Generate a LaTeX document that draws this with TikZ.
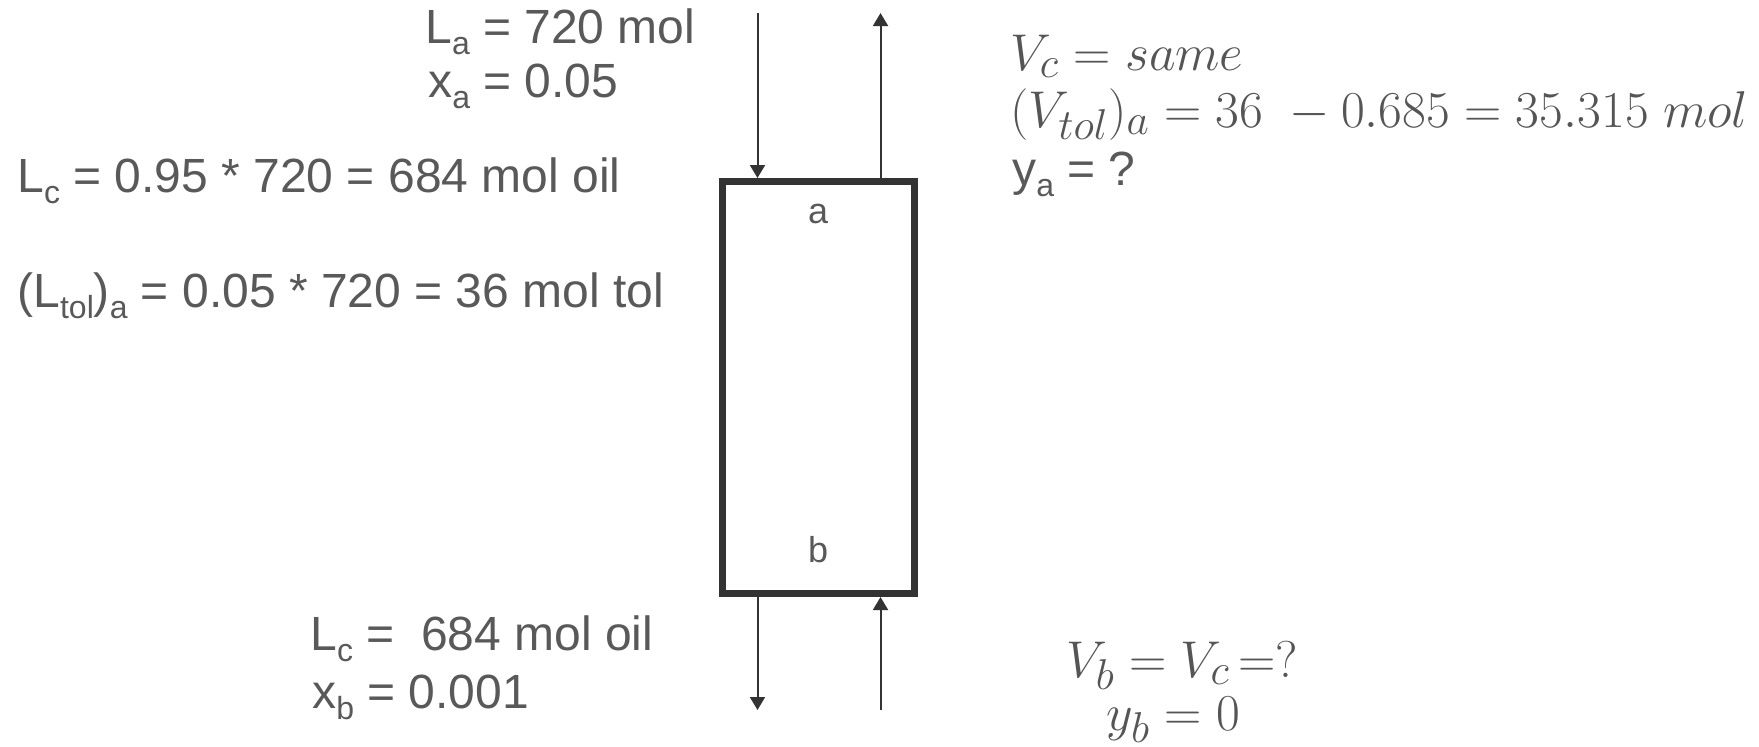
\documentclass[tikz,border=0pt]{standalone}
\usepackage[no-math]{fontspec}
\setmainfont{Liberation Sans}
\usetikzlibrary{arrows.meta}
\definecolor{txt}{HTML}{595959}
\definecolor{mth}{HTML}{555555}
\definecolor{dk}{HTML}{333333}
\newcommand\sbs[1]{\raisebox{-5.5pt}{\fontsize{16}{16}\selectfont #1}}
\newcommand\mbig[1]{\scalebox{1.04}{$#1$}}
\begin{document}
\begin{tikzpicture}[x=0.5pt,y=-0.5pt,
  lbl/.style={anchor=base west,inner sep=0pt,text=txt,font=\fontsize{24}{28}\selectfont},
  mlbl/.style={anchor=base west,inner sep=0pt,text=mth,font=\fontsize{24.88}{30}\selectfont},
  posl/.style={anchor=base,inner sep=0pt,text=txt,font=\fontsize{18}{20}\selectfont},
  colbox/.style={draw=dk,line width=3.5pt,minimum width=96pt,minimum height=206pt,inner sep=0pt},
  flow/.style={draw=dk,line width=1pt,-{Triangle[length=6.5pt,width=7.5pt]}}]
\useasboundingbox (0,0) rectangle (1759,746);
% column
\node[colbox] (column) at (818.5,387.5) {};
\node[posl] (pa) at (818,223) {a};
\node[posl] (pb) at (818,562) {b};
% stream end points
\coordinate (inTop) at (757.5,13);
\coordinate (outTop) at (880.5,13);
\coordinate (outBot) at (757.5,710);
\coordinate (inBot) at (880.5,710);
\draw[flow] (inTop) -- (inTop |- column.north);
\draw[flow] (column.north -| outTop) -- (outTop);
\draw[flow] (column.south -| outBot) -- (outBot);
\draw[flow] (inBot) -- (inBot |- column.south);
% left texts
\node[lbl] (La) at (425,43) {L\sbs{a} = 720 mol};
\node[lbl] (xa) at (428,97) {x\sbs{a} = 0.05};
\node[lbl] (Lc1) at (17,192) {L\sbs{c} = 0.95 * 720 = 684 mol oil};
\node[lbl] (Ltol) at (17,307) {(L\sbs{tol})\sbs{a} = 0.05 * 720 = 36 mol tol};
\node[lbl] (Lc2) at (310,650) {L\sbs{c} =\ \ 684 mol oil};
\node[lbl] (xb) at (312,708) {x\sbs{b} = 0.001};
% right texts
\node[mlbl] (Vc) at (1010,70) {\mbig{V_c = same}};
\node[mlbl] (Vtol) at (1010,127) {\mbig{(V_{tol})_a = 36\ - 0.685 = 35.315\ mol}};
\node[lbl] (ya) at (1012,185) {y\sbs{a} = ?};
\node[mlbl] (Vb) at (1066,677) {\mbig{V_b = V_c \,{=}?}};
\node[mlbl] (yb) at (1106,730) {\mbig{y_b = 0}};
\end{tikzpicture}
\end{document}
